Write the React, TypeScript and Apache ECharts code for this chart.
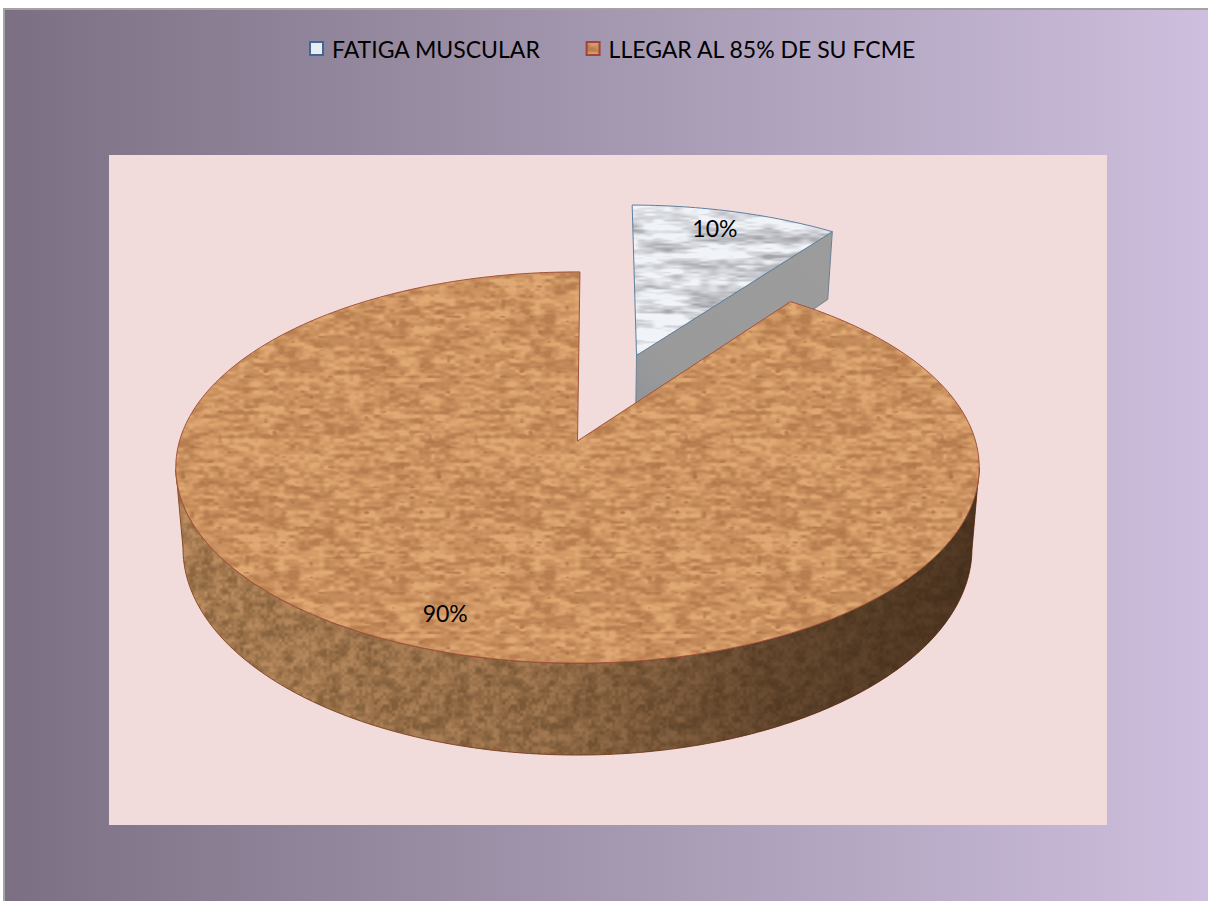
import React, { useEffect, useRef } from "react";
import * as echarts from "echarts";

const categories = ["FATIGA MUSCULAR", "LLEGAR AL 85% DE SU FCME"];
const percentages = [10, 90];
const explode = [0.5, 0];
const labelRadius = [0.86, 0.84];
const labelShiftX = [-8, -14];
const labelShiftY = [-2, 0];

const FONT = "Lato, Carlito, sans-serif";

// Perspective disc: apex of the un-exploded slice, axes, foreshortening and wall height.
const CX = 577.5;
const CY = 441;
const AX = 398;
const AY = 192;
const PERSPECTIVE = 0.1355;
const WALL = 79.5;
const START_DEG = 0.4;

function project(u: number, v: number, h: number): number[] {
  const d = 1 + PERSPECTIVE * v;
  const shrink = 1 - 0.018 * h;
  return [CX + (AX * u * shrink) / d, CY - (AY * v) / d + (WALL * h) / d];
}

// Tileable value noise, so the slice textures repeat without seams.
function hash(ix: number, iy: number, seed: number): number {
  let h = Math.imul(ix + 1, 374761393) + Math.imul(iy + 1, 668265263) + Math.imul(seed, 1274126177);
  h = Math.imul(h ^ (h >>> 15), 2246822519);
  h = Math.imul(h ^ (h >>> 13), 3266489917);
  h = h ^ (h >>> 16);
  return (h >>> 0) / 4294967295;
}

function noise(x: number, y: number, cellX: number, cellY: number, size: number, seed: number): number {
  const nx = Math.max(1, Math.round(size / cellX));
  const ny = Math.max(1, Math.round(size / cellY));
  const fx = (x / size) * nx;
  const fy = (y / size) * ny;
  const ix = Math.floor(fx);
  const iy = Math.floor(fy);
  const sx = fx - ix;
  const sy = fy - iy;
  const tx = sx * sx * (3 - 2 * sx);
  const ty = sy * sy * (3 - 2 * sy);
  const a = hash(ix % nx, iy % ny, seed);
  const b = hash((ix + 1) % nx, iy % ny, seed);
  const c = hash(ix % nx, (iy + 1) % ny, seed);
  const e = hash((ix + 1) % nx, (iy + 1) % ny, seed);
  return (a + (b - a) * tx) * (1 - ty) + (c + (e - c) * tx) * ty;
}

type Shade = (x: number, y: number, size: number) => number[];

function makeTexture(size: number, shade: Shade): HTMLCanvasElement {
  const canvas = document.createElement("canvas");
  canvas.width = size;
  canvas.height = size;
  const ctx = canvas.getContext("2d")!;
  const img = ctx.createImageData(size, size);
  for (let y = 0; y < size; y++) {
    for (let x = 0; x < size; x++) {
      const c = shade(x, y, size);
      const i = (y * size + x) * 4;
      img.data[i] = c[0];
      img.data[i + 1] = c[1];
      img.data[i + 2] = c[2];
      img.data[i + 3] = 255;
    }
  }
  ctx.putImageData(img, 0, 0);
  return canvas;
}

const mix = (a: number[], b: number[], t: number) => {
  const k = Math.min(1, Math.max(0, t));
  return [a[0] + (b[0] - a[0]) * k, a[1] + (b[1] - a[1]) * k, a[2] + (b[2] - a[2]) * k];
};

const shadeCork: Shade = (x, y, s) => {
  const broad = noise(x, y, 32, 8, s, 1);
  const mid = noise(x, y, 12, 4, s, 2);
  const fine = noise(x, y, 5, 3, s, 3);
  const v = 0.12 * broad + 0.5 * mid + 0.38 * fine;
  const c = mix([184, 126, 80], [224, 168, 114], (v - 0.25) / 0.5);
  const fleck = noise(x, y, 9, 5, s, 4);
  return fleck < 0.2 ? mix(c, [170, 112, 70], (0.2 - fleck) * 4) : c;
};

const shadeMarble: Shade = (x, y, s) => {
  const broad = noise(x, y, 52, 9, s, 5);
  const mid = noise(x, y, 24, 5, s, 6);
  const fine = noise(x, y, 9, 2, s, 7);
  const v = 0.4 * broad + 0.35 * mid + 0.25 * fine;
  return mix([164, 164, 170], [240, 243, 247], (v - 0.2) / 0.42);
};

const shadeWall: Shade = (x, y, s) => {
  const mid = noise(x, y, 8, 6, s, 8);
  const fine = noise(x, y, 3, 3, s, 9);
  const v = 0.55 * mid + 0.45 * fine;
  return mix([140, 102, 64], [190, 142, 96], (v - 0.2) / 0.6);
};

export default function App() {
  const ref = useRef<HTMLDivElement>(null);

  useEffect(() => {
    const chart = echarts.init(ref.current!, undefined, { renderer: "svg" });
    const cork = { image: makeTexture(256, shadeCork), repeat: "repeat" };
    const marble = { image: makeTexture(256, shadeMarble), repeat: "repeat" };
    const wall = { image: makeTexture(128, shadeWall), repeat: "repeat" };
    const swatch = { image: makeTexture(16, shadeCork), repeat: "repeat" };

    const tops: any[] = [marble, cork];
    const edges = ["#5f7f9f", "#a4523a"];
    const total = percentages.reduce((a, b) => a + b, 0);
    const silhouette = (Math.acos(-PERSPECTIVE) * 180) / Math.PI;

    const renderSlice = (index: number) => (_params: any, api: any) => {
      const value = api.value(0) as number;
      const before = percentages.slice(0, index).reduce((a, b) => a + b, 0);
      const from = START_DEG + (before / total) * 360;
      const to = from + (value / total) * 360;
      const mid = (((from + to) / 2) * Math.PI) / 180;
      const ox = explode[index] * Math.sin(mid);
      const oy = explode[index] * Math.cos(mid);
      const rim = (deg: number, h: number, r = 1) => {
        const a = (deg * Math.PI) / 180;
        return project(ox + r * Math.sin(a), oy + r * Math.cos(a), h);
      };
      const children: any[] = [];

      // Cut face on the clockwise edge, when it turns towards the viewer.
      const endRad = (to * Math.PI) / 180;
      if (-Math.sin(endRad) < -0.01) {
        children.push({
          type: "polygon",
          shape: { points: [rim(to, 0, 0), rim(to, 0), rim(to, 1), rim(to, 1, 0)] },
          style: {
            fill: {
              type: "linear", x: 0, y: 1, x2: 1, y2: 0,
              colorStops: [
                { offset: 0, color: "#8d9298" },
                { offset: 0.25, color: "#9a9a9a" },
                { offset: 1, color: "#9c9c9c" },
              ],
            },
            stroke: "#6d8196",
            lineWidth: 1,
          },
        });
      }

      // Outer wall along the part of the rim facing the viewer.
      const wallFrom = Math.max(from, silhouette);
      const wallTo = Math.min(to, 360 - silhouette);
      if (wallTo > wallFrom && explode[index] === 0) {
        const pts: number[][] = [];
        for (let d = wallFrom; d <= wallTo; d += 1) pts.push(rim(d, 0));
        for (let d = wallTo; d >= wallFrom; d -= 1) pts.push(rim(d, 1));
        children.push({
          type: "polygon",
          shape: { points: pts },
          style: { fill: wall, stroke: "#8a4a2c", lineWidth: 1 },
        });
        children.push({
          type: "polygon",
          shape: { points: pts },
          style: {
            fill: {
              type: "linear", x: 1, y: 0, x2: 0, y2: 0,
              colorStops: [
                { offset: 0, color: "rgba(42,26,14,0.74)" },
                { offset: 0.25, color: "rgba(42,26,14,0.58)" },
                { offset: 0.55, color: "rgba(42,26,14,0.18)" },
                { offset: 1, color: "rgba(42,26,14,0)" },
              ],
            },
          },
        });
      }

      // Top face of the slice.
      const top: number[][] = [rim(from, 0, 0)];
      for (let d = from; d <= to; d += 1) top.push(rim(d, 0));
      top.push(rim(to, 0));
      children.push({
        type: "polygon",
        shape: { points: top },
        style: { fill: tops[index], stroke: edges[index], lineWidth: 1 },
      });

      // Percentage label, placed along the slice's bisector.
      const at = project(
        ox + labelRadius[index] * Math.sin(mid),
        oy + labelRadius[index] * Math.cos(mid),
        0
      );
      children.push({
        type: "text",
        style: {
          text: `${value}%`,
          x: at[0] + labelShiftX[index],
          y: at[1] + labelShiftY[index],
          fill: "#000000",
          font: `23px ${FONT}`,
          textAlign: "center",
          textVerticalAlign: "middle",
        },
      });
      return { type: "group", children };
    };

    chart.setOption({
      animation: false,
      graphic: [
        { type: "rect", z: 0, silent: true, shape: { x: 3, y: 8, width: 1205, height: 893 }, style: { fill: "#a3a3a3" } },
        {
          type: "rect", z: 0, silent: true,
          shape: { x: 5, y: 10, width: 1203, height: 891 },
          style: {
            fill: {
              type: "linear", x: 0, y: 0, x2: 1, y2: 0,
              colorStops: [
                { offset: 0, color: "#7b7083" },
                { offset: 1, color: "#cdbfdd" },
              ],
            },
          },
        },
        { type: "rect", z: 0, silent: true, shape: { x: 109, y: 155, width: 998, height: 670 }, style: { fill: "#f2dcdb" } },
      ],
      legend: {
        left: 304,
        top: 32,
        itemWidth: 13,
        itemHeight: 13,
        itemGap: 45,
        textStyle: { fontFamily: FONT, fontSize: 23, color: "#000000", padding: [0, 0, 0, 4] },
        data: [
          { name: categories[0], icon: "rect", itemStyle: { color: "#e9edf2", borderColor: "#3f6797", borderWidth: 2 } },
          { name: categories[1], icon: "rect", itemStyle: { color: swatch, borderColor: "#a2423a", borderWidth: 2 } },
        ],
      },
      series: categories.map((name, i) => ({
        type: "custom",
        name,
        coordinateSystem: "none",
        silent: true,
        data: [{ name, value: percentages[i] }],
        itemStyle: { color: i === 0 ? "#e9edf2" : "#c98f5d" },
        renderItem: renderSlice(i),
      })),
    });
    return () => chart.dispose();
  }, []);

  return (
    <div
      ref={ref}
      style={{ position: "absolute", left: 0, top: 0, width: 1208, height: 901, background: "#ffffff" }}
    />
  );
}
